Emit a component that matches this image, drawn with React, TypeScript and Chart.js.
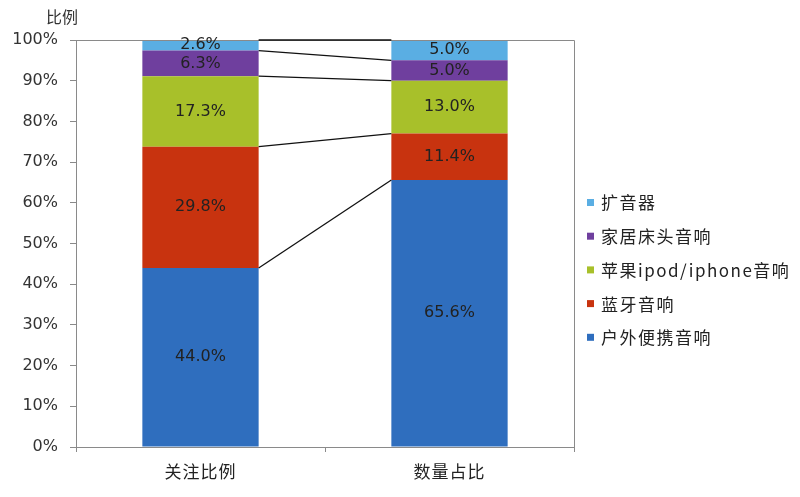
import React, { useEffect, useRef } from "react";
import { Chart, registerables } from "chart.js";

Chart.register(...registerables);

const categories = ["关注比例", "数量占比"];
const seriesNames = ["户外便携音响", "蓝牙音响", "苹果ipod/iphone音响", "家居床头音响", "扩音器"];
const outdoor = [44.0, 65.6];
const bluetooth = [29.8, 11.4];
const apple = [17.3, 13.0];
const bedside = [6.3, 5.0];
const amplifier = [2.6, 5.0];
const yTicks = [0, 10, 20, 30, 40, 50, 60, 70, 80, 90, 100];
const yTitle = "比例";

const colors = ["#2f6ebe", "#c8330f", "#a8c02a", "#6f3f9e", "#5aaee3"];
const FONT = "'DejaVu Sans', 'Noto Sans CJK SC', sans-serif";
const CJK = "'Noto Sans CJK SC', sans-serif";

const overlay = {
  id: "overlay",
  afterDatasetsDraw(chart: any) {
    const ctx = chart.ctx;
    const area = chart.chartArea;
    const y = chart.scales.y;
    ctx.save();
    ctx.strokeStyle = "#8a8a8a";
    ctx.lineWidth = 1;
    ctx.beginPath();
    ctx.moveTo(area.left, area.top + 0.5);
    ctx.lineTo(area.right + 0.5, area.top + 0.5);
    ctx.lineTo(area.right + 0.5, area.bottom);
    ctx.stroke();
    // connecting lines
    const m0 = chart.getDatasetMeta(0);
    const b1 = m0.data[0];
    const b2 = m0.data[1];
    const x1 = b1.x + b1.width / 2;
    const x2 = b2.x - b2.width / 2;
    ctx.strokeStyle = "#111";
    ctx.lineWidth = 1.3;
    let c1 = 0;
    let c2 = 0;
    chart.data.datasets.forEach((ds: any) => {
      c1 += ds.data[0];
      c2 += ds.data[1];
      ctx.beginPath();
      ctx.moveTo(x1, y.getPixelForValue(c1));
      ctx.lineTo(x2, y.getPixelForValue(c2));
      ctx.stroke();
    });
    // data labels
    ctx.font = "16px " + FONT;
    ctx.fillStyle = "#222";
    ctx.textAlign = "center";
    ctx.textBaseline = "middle";
    chart.data.datasets.forEach((ds: any, i: number) => {
      const meta = chart.getDatasetMeta(i);
      meta.data.forEach((bar: any, j: number) => {
        const cy = (bar.y + bar.base) / 2;
        ctx.fillText(ds.data[j].toFixed(1) + "%", bar.x, cy);
      });
    });
    // y title
    ctx.font = "16px " + CJK;
    ctx.fillStyle = "#333";
    ctx.fillText(yTitle, 62, 17);
    // x labels
    ctx.font = "17px " + CJK;
    ctx.fillStyle = "#222";
    (ctx as any).letterSpacing = "1px";
    chart.data.labels.forEach((lab: string, j: number) => {
      ctx.fillText(lab, m0.data[j].x, 472);
    });
    // legend
    const items = chart.data.datasets.map((ds: any) => ({ label: ds.label, color: ds.backgroundColor })).reverse();
    ctx.textAlign = "left";
    ctx.font = "17px " + CJK;
    (ctx as any).letterSpacing = "1.5px";
    items.forEach((it: any, k: number) => {
      const cy = 203 + k * 33.7;
      ctx.fillStyle = it.color;
      ctx.fillRect(587, cy - 4, 7, 7);
      ctx.fillStyle = "#222";
      ctx.fillText(it.label, 601, cy);
    });
    ctx.restore();
  },
};

export default function App() {
  const ref = useRef<HTMLCanvasElement>(null);
  useEffect(() => {
    const series = [outdoor, bluetooth, apple, bedside, amplifier];
    const chart = new Chart(ref.current as HTMLCanvasElement, {
      type: "bar",
      data: {
        labels: categories,
        datasets: series.map((d, i) => ({
          label: seriesNames[i],
          data: d,
          backgroundColor: colors[i],
          borderWidth: 0,
          barPercentage: 1,
          categoryPercentage: 0.467,
        })),
      },
      options: {
        animation: false,
        responsive: true,
        maintainAspectRatio: false,
        layout: { padding: { left: 0, right: 226, top: 40, bottom: 0 } },
        plugins: { legend: { display: false }, tooltip: { enabled: false } },
        scales: {
          x: {
            stacked: true,
            grid: { drawOnChartArea: false, tickLength: 5, color: "#8a8a8a", offset: true },
            border: { color: "#8a8a8a" },
            ticks: { display: false },
            afterFit: (s: any) => { s.height = 50; },
          },
          y: {
            stacked: true,
            min: 0,
            max: 100,
            afterBuildTicks: (s: any) => { s.ticks = yTicks.map((v) => ({ value: v })); },
            grid: { drawOnChartArea: false, tickLength: 6, color: "#8a8a8a" },
            border: { color: "#8a8a8a" },
            ticks: {
              font: { size: 16, family: FONT },
              color: "#333",
              padding: 12,
              callback: (v: any) => v + "%",
            },
            afterFit: (s: any) => { s.width = 76; },
          },
        },
      },
      plugins: [overlay],
    });
    return () => chart.destroy();
  }, []);
  return (
    <div style={{ position: "fixed", left: 0, top: 0, width: 800, height: 497, background: "#fff" }}>
      <canvas ref={ref} />
    </div>
  );
}
